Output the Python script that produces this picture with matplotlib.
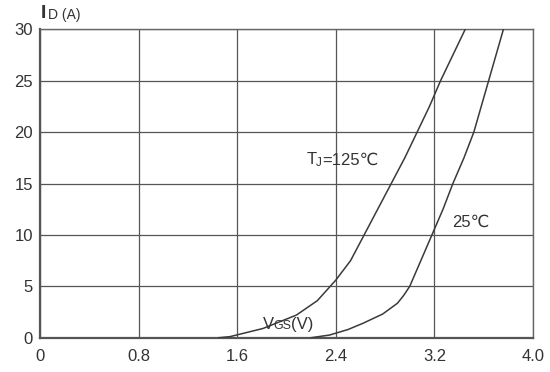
import matplotlib
matplotlib.use("Agg")
import matplotlib.pyplot as plt

plt.rcParams['font.family'] = ['Liberation Sans', 'DejaVu Sans']

# Data
vgs_125 = [1.45, 1.54, 1.81, 2.08, 2.25, 2.40, 2.52, 2.63, 2.74, 2.85, 2.96, 3.06, 3.16, 3.25, 3.35, 3.45]
id_125 = [0.0, 0.1, 0.9, 2.2, 3.6, 5.6, 7.5, 10.0, 12.5, 15.0, 17.5, 20.0, 22.5, 25.0, 27.5, 30.0]
vgs_25 = [2.20, 2.35, 2.50, 2.62, 2.78, 2.90, 2.95, 3.00, 3.09, 3.18, 3.27, 3.35, 3.44, 3.52, 3.58, 3.64, 3.70, 3.76]
id_25 = [0.0, 0.26, 0.8, 1.4, 2.3, 3.35, 4.1, 5.0, 7.5, 10.0, 12.5, 15.0, 17.5, 20.0, 22.5, 25.0, 27.5, 30.0]

x_ticks = [0, 0.8, 1.6, 2.4, 3.2, 4.0]
x_labels = ["0", "0.8", "1.6", "2.4", "3.2", "4.0"]
y_ticks = [0, 5, 10, 15, 20, 25, 30]
y_labels = ["0", "5", "10", "15", "20", "25", "30"]

txt = '#333333'
fig = plt.figure(figsize=(5.5, 3.72), dpi=100)
ax = fig.add_axes([40/550, 1-337.7/372, (533-40)/550, (337.7-29.3)/372])

ax.plot(vgs_125, id_125, color='#3a3a3a', lw=1.1, zorder=3)
ax.plot(vgs_25, id_25, color='#3a3a3a', lw=1.1, zorder=3)

ax.set_xlim(0, 4.0)
ax.set_ylim(0, 30)
ax.set_xticks(x_ticks)
ax.set_xticklabels(x_labels)
ax.set_yticks(y_ticks)
ax.set_yticklabels(y_labels)
ax.tick_params(axis='both', length=0, labelsize=12, labelcolor=txt)
ax.tick_params(axis='x', pad=8)
ax.tick_params(axis='y', pad=5)
ax.grid(True, color='#555555', lw=0.9)
ax.set_axisbelow(True)
for s in ['top', 'right']:
    ax.spines[s].set_color('#666666')
    ax.spines[s].set_linewidth(1.0)
for s in ['left', 'bottom']:
    ax.spines[s].set_color('#555555')
    ax.spines[s].set_linewidth(1.6)

# Axis titles
fig.text(41/550, 1-14/372, "I", fontsize=14, fontweight='bold', color=txt, va='center', ha='left')
fig.text(47.5/550, 1-15/372, "D (A)", fontsize=10, color=txt, va='center', ha='left')

# Curve labels
ax.text(2.165, 17.3, "T", fontsize=12, color=txt, va='center', ha='left')
ax.text(2.242, 17.0, "J", fontsize=8.5, color=txt, va='center', ha='left')
ax.text(2.29, 17.3, "=125\u2103", fontsize=12, color=txt, va='center', ha='left')
ax.text(3.34, 11.2, "25\u2103", fontsize=12, color=txt, va='center', ha='left')
ax.text(1.81, 1.3, "V", fontsize=12, color=txt, va='center', ha='left')
ax.text(1.895, 1.1, "GS", fontsize=9, color=txt, va='center', ha='left')
ax.text(2.04, 1.3, "(V)", fontsize=12, color=txt, va='center', ha='left')

fig.savefig("out.png", dpi=100, facecolor='white')
